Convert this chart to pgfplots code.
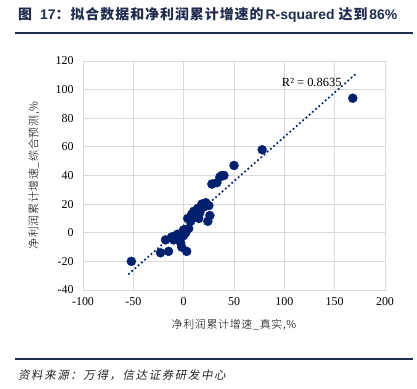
\documentclass[border=0pt]{standalone}
\usepackage{fontspec}
\usepackage{pgfplots}
\pgfplotsset{compat=1.18}
\setmainfont{Liberation Serif}
\newfontfamily\cjk{Noto Sans CJK SC}
\newfontfamily\cjksp[LetterSpace=7]{Noto Sans CJK SC}
\newfontfamily\cjklab[LetterSpace=6]{Noto Sans CJK SC Light}
\newfontfamily\cjkit[FakeSlant=0.2,LetterSpace=14]{Noto Sans CJK SC}
\newfontfamily\hs{Liberation Sans}
\definecolor{navy}{RGB}{0,32,110}
\definecolor{titlec}{RGB}{32,44,78}
\definecolor{gridc}{RGB}{217,217,217}
\begin{document}
\begin{tikzpicture}[x=1bp,y=1bp]
\path[use as bounding box] (0,0) rectangle (417,389);
\node[anchor=west,inner sep=0pt,text=titlec] at (18,374) {\fontsize{14}{15}\selectfont\bfseries{\cjk 图}\hspace{8bp}{\hs 17}{\cjksp ：拟合数据和净利润累计增速的}\hspace{2bp}{\hs R-squared}\hspace{4bp}{\cjksp 达到}\hspace{2bp}{\hs 86\%}};
\draw[titlec,line width=1.3bp] (15,356) -- (413,356);
\draw[titlec,line width=1.3bp] (15,30) -- (413,30);
\node[anchor=west,inner sep=0pt,text=black!85] at (18,14) {\fontsize{11.5}{12}\selectfont\cjkit 资料来源：万得，信达证券研发中心};
\begin{axis}[
  at={(83bp,99bp)}, anchor=south west,
  scale only axis, width=302bp, height=229bp,
  xmin=-100, xmax=200, ymin=-40, ymax=120,
  xtick={-100,-50,...,200}, ytick={-40,-20,...,120},
  grid=major, major grid style={gridc, line width=0.8bp},
  axis line style={gridc, line width=0.8bp},
  major tick length=0pt,
  tick label style={font=\fontsize{12}{13}\selectfont},
  /pgf/number format/assume math mode=true,
  xticklabel style={yshift=-4bp},
  yticklabel style={xshift=-6bp},
  xlabel={\cjklab 净利润累计增速\_真实,\%},
  ylabel={\cjklab 净利润累计增速\_综合预测,\%},
  xlabel style={at={(axis description cs:0.5,-0.153)},anchor=center,font=\fontsize{11}{12}\selectfont},
  ylabel style={at={(axis description cs:-0.162,0.5)},anchor=center,font=\fontsize{11}{12}\selectfont},
  clip=false,
]
\addplot[navy, line width=1.7bp, dash pattern=on 1.7bp off 2.6bp] coordinates {(-55,-29.1) (171,111)};
\addplot[only marks, mark=*, mark size=4.5bp, navy, mark options={draw=navy, fill=navy}] coordinates {
(-52,-20) (-23,-14) (-15,-13) (-18,-5) (-12,-3) (-10,-5) (-8,-2) (-6,-1)
(-5,-4) (-3,-7) (-2,-10) (0,-2) (2,0) (3,-13) (0,2) (5,3)
(4,10) (7,8) (8,13) (10,15) (12,12) (14,17) (15,10) (16,14)
(18,20) (20,18) (22,21) (25,19) (24,8) (26,12) (28,34) (33,35)
(36,39) (38,40) (40,40) (50,47) (78,58) (168,94)
};
\node[anchor=east,inner sep=0pt,font=\fontsize{12.5}{13}\selectfont] at (axis cs:157,105) {R² = 0.8635};
\end{axis}
\end{tikzpicture}
\end{document}
